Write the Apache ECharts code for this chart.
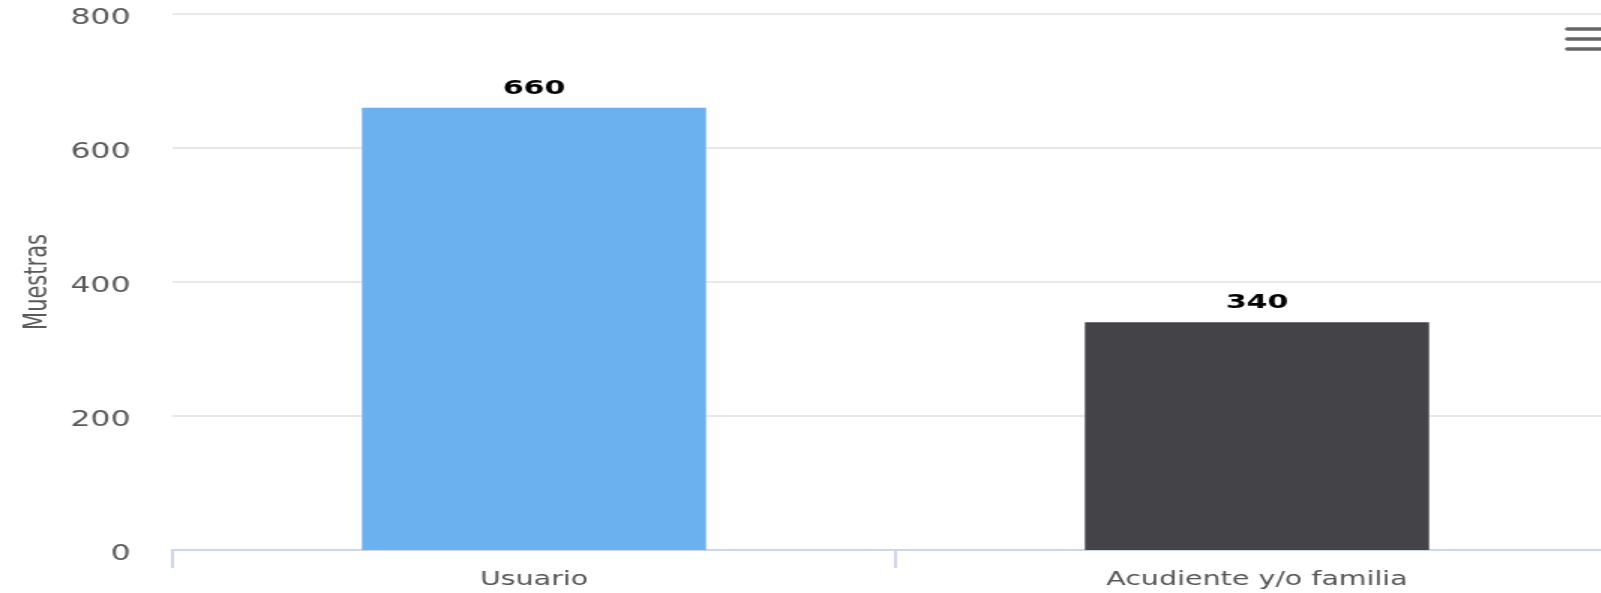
<!DOCTYPE html>
<html>
<head>
<meta charset="utf-8">
<script src="https://cdn.jsdelivr.net/npm/echarts@6/dist/echarts.min.js"></script>
<style>
  html, body { margin: 0; padding: 0; overflow: hidden; background: #ffffff; width: 1601px; height: 593px; }
  #chart {
    width: 1100px; height: 593px;
    transform: scaleX(1.5); transform-origin: 0 0;
  }
</style>
</head>
<body>
<div id="chart"></div>
<script>
// ---- data ----
const categories = ['Usuario', 'Acudiente y/o familia'];
const values = [660, 340];
const barColors = ['#6cb1ef', '#434348'];
const yAxisTitle = 'Muestras';
const yMin = 0;
const yMax = 800;
const yInterval = 200;

// ---- chart ----
const chart = echarts.init(document.getElementById('chart'), null, { renderer: 'canvas' });
const font = 'DejaVu Sans';

const option = {
  animation: false,
  backgroundColor: '#ffffff',
  grid: { left: 115, top: 14, width: 964, height: 536, containLabel: false },
  xAxis: {
    type: 'category',
    data: categories,
    boundaryGap: true,
    axisLine: { show: true, lineStyle: { color: '#ccd6eb', width: 2 } },
    axisTick: { show: true, alignWithLabel: false, length: 18, lineStyle: { color: '#ccd6eb', width: 2 } },
    axisLabel: { color: '#555555', fontFamily: font, fontSize: 19, margin: 21 },
    splitLine: { show: false }
  },
  yAxis: {
    type: 'value',
    min: yMin, max: yMax, interval: yInterval,
    name: yAxisTitle,
    nameLocation: 'middle',
    nameGap: 79,
    nameTextStyle: { color: '#5a5a5a', fontFamily: font, fontSize: 21 },
    axisLine: { show: false },
    axisTick: { show: false },
    axisLabel: { color: '#5a5a5a', fontFamily: font, fontSize: 21, margin: 28, verticalAlign: 'top', lineHeight: 10 },
    splitLine: { show: true, lineStyle: { color: '#e8e8e8', width: 2 } }
  },
  series: [{
    type: 'bar',
    data: values.map((v, i) => ({ value: v, itemStyle: { color: barColors[i] } })),
    barWidth: '47.6%',
    label: {
      show: true,
      position: 'top',
      distance: 9,
      color: '#000000',
      fontFamily: font,
      fontWeight: 'bold',
      fontSize: 20
    }
  }],
  graphic: [
    { type: 'line', shape: { x1: 1045, y1: 29, x2: 1080, y2: 29 }, style: { stroke: '#666666', lineWidth: 3.5, lineCap: 'round' } },
    { type: 'line', shape: { x1: 1045, y1: 39, x2: 1080, y2: 39 }, style: { stroke: '#666666', lineWidth: 3.5, lineCap: 'round' } },
    { type: 'line', shape: { x1: 1045, y1: 49, x2: 1080, y2: 49 }, style: { stroke: '#666666', lineWidth: 3.5, lineCap: 'round' } }
  ]
};
chart.setOption(option);
</script>
</body>
</html>
